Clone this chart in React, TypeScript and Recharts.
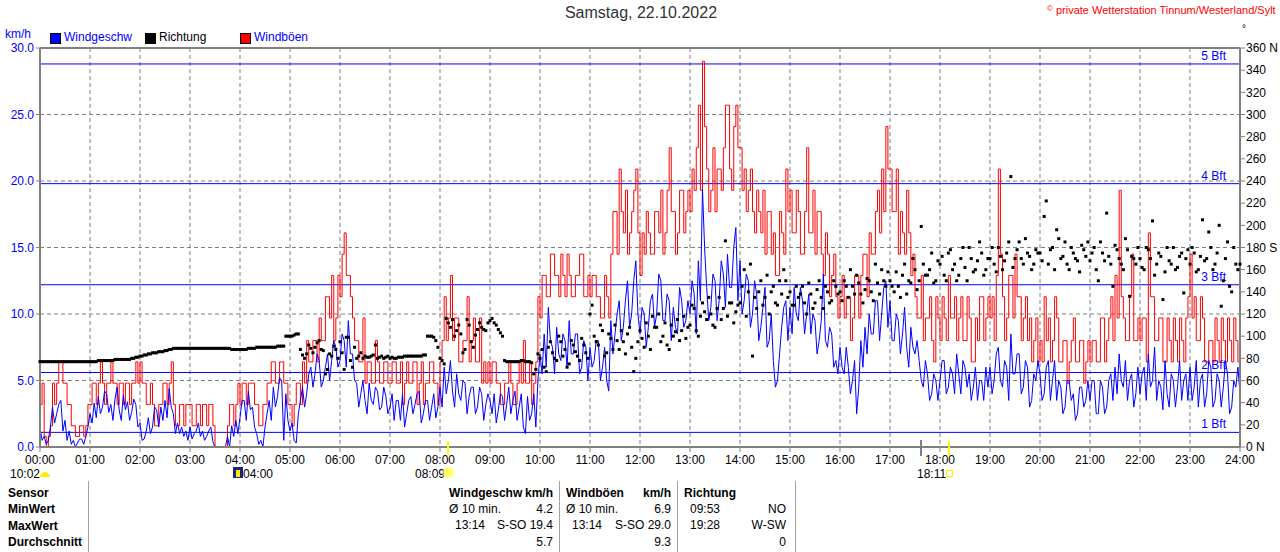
import React from "react";
import {
  ComposedChart,
  Line,
  Scatter,
  XAxis,
  YAxis,
  CartesianGrid,
  ReferenceLine,
} from "recharts";

// readings every 5 minutes, 00:00 .. 24:00 (km/h)
const windSpeed: number[] = [
  1.5, 0.8, 0.5, 3.0, 2.5, 3.5, 2.0, 1.2, 0.5, 0.3, 0.6, 0.8,
  2.5, 3.3, 3.8, 3.0, 4.0, 3.2, 3.6, 2.8, 3.9, 3.4, 2.6, 3.2,
  1.8, 0.6, 2.2, 1.5, 2.8, 3.0, 3.5, 4.4, 2.5, 1.8, 1.5, 1.2,
  1.5, 1.0, 1.8, 1.2, 0.8, 1.5, 0, 0, 0, 0.8, 1.6, 2.0,
  2.2, 3.5, 4.2, 3.0, 1.0, 0.5, 1.5, 3.5, 4.5, 3.8, 5.0, 4.0,
  1.2, 0.5, 2.5, 4.5, 4.0, 6.0, 5.5, 6.5, 5.0, 7.0, 6.5, 7.5,
  6.5, 8.0, 9.5, 7.0, 4.8, 4.0, 3.5, 4.8, 3.2, 4.2, 3.0, 3.8,
  3.0, 2.0, 3.5, 4.0, 2.5, 3.8, 3.2, 4.2, 2.5, 3.5, 3.0, 2.2,
  4.5, 6.0, 5.0, 4.2, 5.5, 3.5, 4.8, 3.8, 4.5, 3.0, 4.0, 3.2,
  3.5, 4.0, 2.8, 3.8, 3.2, 2.5, 4.2, 3.0, 1.5, 3.8, 2.5, 1.5,
  7.0, 8.5, 10.5, 7.5, 9.0, 6.5, 8.0, 9.5, 7.0, 8.5, 6.0, 7.5,
  7.5, 6.5, 8.0, 6.0, 5.0, 9.5, 8.5, 11.0, 9.0, 12.5, 10.0, 14.0,
  8.5, 10.0, 9.0, 11.5, 10.0, 12.5, 9.5, 11.0, 10.5, 8.5, 11.0, 9.5,
  10.0, 11.5, 14.0, 19.4, 12.0, 10.5, 12.5, 11.0, 13.0, 14.5, 12.0, 16.5,
  14.0, 11.0, 12.5, 10.0, 11.5, 9.0, 12.0, 8.0, 6.5, 5.0, 9.0, 11.0,
  10.5, 12.0, 9.5, 11.0, 10.0, 8.5, 9.5, 8.0, 13.0, 7.5, 8.5, 6.5,
  7.5, 5.5, 6.0, 5.0, 2.5, 8.0, 9.0, 10.0, 8.5, 11.0, 10.0, 12.5,
  11.0, 8.0, 9.5, 8.5, 7.5, 9.0, 7.0, 6.5, 4.5, 5.5, 4.0, 5.0,
  5.0, 6.5, 4.5, 5.5, 7.0, 4.0, 6.0, 5.5, 4.5, 3.5, 5.0, 6.0,
  6.0, 5.0, 7.5, 4.5, 6.0, 8.5, 5.5, 7.0, 4.5, 6.0, 3.5, 5.0,
  5.5, 4.0, 6.5, 5.0, 3.5, 4.5, 3.0, 5.0, 4.0, 2.5, 4.5, 3.5,
  3.5, 5.0, 2.5, 4.5, 3.0, 5.5, 6.0, 7.0, 4.5, 3.5, 5.5, 4.0,
  4.0, 6.0, 7.0, 5.0, 3.5, 4.5, 6.5, 3.0, 5.0, 4.5, 3.5, 5.5,
  6.0, 4.5, 3.0, 5.5, 4.0, 6.0, 3.5, 5.0, 4.5, 5.5, 3.0, 4.5,
  4.0,
];

// in-between readings, 2.5 minutes after each of the above
const windSpeedMid: number[] = [
  0.5, 0.2, 1.5, 1.8, 3.2, 1.2, 0.5, 0.2, 0, 0.6, 0.2, 1.5,
  1.8, 2.2, 2.5, 4.2, 2.6, 2.0, 4.5, 2.0, 2.8, 2.0, 3.6, 1.5,
  0.5, 1.2, 1.0, 3.0, 1.5, 2.0, 2.2, 3.0, 1.0, 1.0, 0.8, 0.5,
  0.6, 1.2, 0.8, 0.5, 1.2, 0.4, 0, 0, 0, 0, 0.8, 1.0,
  3.5, 2.0, 2.8, 1.5, 0.2, 0, 2.5, 2.0, 3.0, 5.2, 0.5, 2.0,
  1.8, 0.3, 3.5, 3.0, 5.5, 4.5, 7.0, 4.5, 6.0, 5.0, 8.0, 6.0,
  8.5, 6.0, 7.0, 5.0, 3.0, 5.0, 2.5, 3.5, 4.5, 2.8, 4.5, 2.5,
  4.0, 3.5, 2.0, 1.5, 3.5, 2.5, 4.0, 1.8, 3.5, 2.0, 4.0, 3.0,
  3.0, 4.0, 6.5, 3.0, 4.0, 5.0, 2.5, 4.5, 2.5, 4.5, 2.0, 4.0,
  2.5, 1.8, 4.0, 2.0, 4.5, 3.5, 2.0, 4.0, 1.0, 2.0, 4.0, 5.0,
  5.5, 6.0, 8.0, 5.5, 7.0, 8.5, 6.0, 7.0, 8.5, 5.5, 8.0, 5.0,
  6.0, 8.0, 5.0, 7.5, 4.2, 7.0, 10.0, 8.0, 11.0, 9.0, 12.5, 10.0,
  10.5, 7.5, 11.0, 9.0, 13.0, 9.5, 11.5, 8.0, 9.0, 12.0, 9.0, 11.0,
  12.5, 8.5, 11.0, 15.0, 9.5, 13.0, 9.5, 14.0, 10.5, 12.0, 15.0, 11.0,
  10.0, 13.0, 9.0, 12.5, 8.0, 10.5, 7.5, 10.0, 4.5, 7.0, 10.5, 8.0,
  8.5, 10.0, 12.0, 8.5, 11.5, 10.0, 7.0, 9.5, 8.0, 9.0, 6.0, 5.5,
  6.0, 7.5, 4.0, 6.5, 4.5, 6.0, 7.0, 8.5, 11.0, 8.0, 12.0, 9.0,
  8.0, 10.0, 7.0, 10.5, 6.0, 7.5, 8.0, 5.0, 6.5, 3.5, 5.5, 3.5,
  6.5, 4.0, 6.0, 4.0, 5.5, 6.5, 4.5, 3.5, 6.0, 5.0, 3.5, 4.5,
  4.0, 7.0, 5.0, 6.5, 3.5, 5.5, 7.0, 4.0, 6.5, 3.0, 5.5, 6.5,
  3.5, 6.0, 3.5, 6.5, 5.0, 2.5, 5.0, 3.5, 2.0, 4.5, 3.0, 5.0,
  5.0, 2.5, 5.0, 2.5, 5.0, 3.5, 4.0, 5.0, 6.5, 5.0, 3.0, 6.0,
  5.5, 3.5, 4.5, 7.5, 5.0, 2.8, 4.0, 5.5, 3.0, 6.5, 5.0, 3.5,
  3.5, 6.5, 5.0, 3.0, 6.5, 3.0, 5.5, 3.0, 6.5, 2.5, 5.0, 6.0,
];

const gusts: number[] = [
  3.2, 0.8, 0.8, 4.8, 4.8, 6.4, 4.8, 3.2, 1.6, 0.8, 1.6, 1.6,
  3.2, 4.8, 4.8, 4.8, 4.8, 6.4, 4.8, 4.8, 3.2, 4.8, 4.8, 6.4,
  6.4, 4.8, 3.2, 3.2, 1.6, 3.2, 4.8, 4.8, 3.2, 1.6, 3.2, 3.2,
  3.2, 1.6, 3.2, 3.2, 1.6, 3.2, 0, 0, 0, 1.6, 3.2, 3.2,
  3.2, 4.8, 4.8, 4.8, 3.2, 1.6, 3.2, 4.8, 6.4, 4.8, 6.4, 4.8,
  3.2, 3.2, 4.8, 6.4, 8.0, 6.4, 8.0, 9.7, 8.0, 11.3, 12.9, 9.7,
  11.3, 16.1, 12.9, 9.7, 8.0, 6.4, 4.8, 6.4, 4.8, 6.4, 4.8, 6.4,
  4.8, 6.4, 4.8, 3.2, 6.4, 4.8, 6.4, 4.8, 3.2, 4.8, 6.4, 4.8,
  6.4, 11.3, 9.7, 8.0, 9.7, 6.4, 8.0, 6.4, 9.7, 6.4, 4.8, 4.8,
  4.8, 6.4, 4.8, 3.2, 4.8, 4.8, 3.2, 6.4, 8.0, 4.8, 3.2, 6.4,
  9.7, 12.9, 11.3, 14.5, 12.9, 14.5, 11.3, 12.9, 11.3, 12.9, 14.5, 11.3,
  11.3, 12.9, 11.3, 9.7, 11.3, 14.5, 17.7, 20.9, 16.1, 14.5, 17.7, 20.9,
  12.9, 14.5, 16.1, 14.5, 17.7, 19.3, 16.1, 22.5, 17.7, 16.1, 19.3, 17.7,
  17.7, 19.3, 25.7, 29.0, 20.9, 19.3, 17.7, 20.9, 22.5, 25.7, 19.3, 25.7,
  22.5, 20.9, 19.3, 17.7, 19.3, 16.1, 14.5, 17.7, 16.1, 12.9, 16.1, 20.9,
  19.3, 16.1, 17.7, 14.5, 22.5, 16.1, 14.5, 17.7, 12.9, 14.5, 12.9, 11.3,
  11.3, 9.7, 11.3, 9.7, 12.9, 12.9, 14.5, 16.1, 14.5, 19.3, 20.9, 24.1,
  20.9, 17.7, 14.5, 16.1, 19.3, 12.9, 11.3, 9.7, 8.0, 9.7, 8.0, 11.3,
  8.0, 9.7, 12.9, 9.7, 8.0, 11.3, 8.0, 9.7, 6.4, 8.0, 11.3, 9.7,
  9.7, 8.0, 20.9, 11.3, 9.7, 12.9, 14.5, 11.3, 9.7, 8.0, 6.4, 9.7,
  8.0, 11.3, 9.7, 8.0, 9.7, 6.4, 8.0, 6.4, 9.7, 6.4, 8.0, 6.4,
  6.4, 8.0, 6.4, 9.7, 8.0, 11.3, 12.9, 19.3, 9.7, 8.0, 14.5, 8.0,
  8.0, 9.7, 16.1, 11.3, 8.0, 9.7, 6.4, 8.0, 9.7, 6.4, 8.0, 9.7,
  14.5, 11.3, 8.0, 9.7, 6.4, 8.0, 9.7, 6.4, 8.0, 9.7, 6.4, 8.0,
  6.4,
];

const gustsMid: number[] = [
  4.8, 0, 1.6, 3.2, 6.4, 4.8, 3.2, 1.6, 0.8, 1.6, 0.8, 3.2,
  4.8, 3.2, 6.4, 3.2, 4.8, 4.8, 3.2, 4.8, 4.8, 3.2, 4.8, 4.8,
  4.8, 3.2, 4.8, 1.6, 3.2, 4.8, 3.2, 6.4, 1.6, 3.2, 1.6, 3.2,
  1.6, 3.2, 1.6, 3.2, 3.2, 1.6, 0, 0, 0, 3.2, 1.6, 4.8,
  4.8, 3.2, 4.8, 3.2, 1.6, 3.2, 4.8, 6.4, 4.8, 6.4, 4.8, 3.2,
  1.6, 4.8, 3.2, 4.8, 6.4, 8.0, 6.4, 8.0, 11.3, 9.7, 8.0, 12.9,
  14.5, 12.9, 11.3, 8.0, 6.4, 9.7, 6.4, 4.8, 8.0, 4.8, 6.4, 4.8,
  6.4, 4.8, 6.4, 4.8, 4.8, 6.4, 3.2, 6.4, 4.8, 6.4, 4.8, 3.2,
  8.0, 8.0, 12.9, 9.7, 6.4, 8.0, 11.3, 8.0, 6.4, 9.7, 6.4, 6.4,
  6.4, 4.8, 3.2, 4.8, 6.4, 3.2, 4.8, 4.8, 4.8, 6.4, 4.8, 11.3,
  12.9, 11.3, 14.5, 12.9, 11.3, 12.9, 14.5, 11.3, 12.9, 14.5, 11.3, 12.9,
  12.9, 11.3, 9.7, 12.9, 9.7, 17.7, 14.5, 17.7, 19.3, 16.1, 19.3, 16.1,
  16.1, 17.7, 14.5, 17.7, 16.1, 14.5, 19.3, 17.7, 14.5, 19.3, 16.1, 19.3,
  20.9, 22.5, 19.3, 24.1, 17.7, 22.5, 20.9, 19.3, 25.7, 20.9, 24.1, 22.5,
  19.3, 17.7, 20.9, 16.1, 17.7, 19.3, 17.7, 14.5, 12.9, 17.7, 14.5, 17.7,
  16.1, 19.3, 14.5, 17.7, 16.1, 19.3, 17.7, 14.5, 16.1, 11.3, 14.5, 9.7,
  12.9, 11.3, 8.0, 12.9, 9.7, 14.5, 11.3, 14.5, 17.7, 16.1, 17.7, 20.9,
  17.7, 20.9, 17.7, 14.5, 16.1, 14.5, 9.7, 12.9, 9.7, 11.3, 6.4, 9.7,
  11.3, 8.0, 9.7, 11.3, 9.7, 8.0, 11.3, 6.4, 9.7, 11.3, 8.0, 11.3,
  11.3, 12.9, 14.5, 8.0, 12.9, 9.7, 11.3, 8.0, 11.3, 9.7, 8.0, 6.4,
  6.4, 8.0, 6.4, 11.3, 6.4, 8.0, 4.8, 8.0, 6.4, 8.0, 4.8, 8.0,
  8.0, 6.4, 9.7, 6.4, 9.7, 8.0, 9.7, 11.3, 8.0, 11.3, 8.0, 9.7,
  9.7, 6.4, 11.3, 8.0, 9.7, 6.4, 9.7, 6.4, 8.0, 9.7, 6.4, 11.3,
  9.7, 8.0, 11.3, 6.4, 8.0, 6.4, 8.0, 9.7, 6.4, 8.0, 9.7, 6.4,
];

// wind direction in degrees
const direction: number[] = [
  77, 77, 77, 77, 77, 77, 77, 77, 77, 77, 77, 77,
  77, 77, 78, 78, 78, 78, 79, 79, 79, 79, 80, 81,
  82, 83, 84, 85, 85, 86, 87, 88, 89, 89, 89, 89,
  89, 89, 89, 89, 89, 89, 89, 89, 89, 89, 88, 88,
  88, 88, 89, 89, 90, 90, 90, 90, 90, 91, 91, 100,
  100, 101, 102, 83, 84, 89, 90, 96, 87, 70, 82, 88,
  95, 70, 99, 72, 80, 85, 82, 81, 83, 80, 82, 81,
  80, 80, 81, 81, 82, 82, 82, 82, 83, 100, 100, 96,
  80, 75, 112, 115, 105, 102, 88, 110, 90, 106, 108, 105,
  114, 112, 106, 100, 77, 77, 77, 77, 78, 77, 76, 70,
  80, 72, 90, 85, 78, 95, 88, 75, 92, 82, 98, 85,
  120, 100, 92, 105, 85, 98, 110, 88, 95, 102, 90, 80,
  105, 90, 100, 118, 108, 95, 112, 88, 100, 115, 105, 98,
  110, 125, 100, 130, 115, 120, 108, 135, 125, 118, 130, 122,
  130, 160, 140, 82, 125, 150, 135, 120, 145, 128, 138, 150,
  140, 128, 135, 145, 120, 138, 130, 150, 125, 140, 132, 145,
  140, 150, 135, 145, 155, 138, 142, 150, 132, 148, 160, 145,
  150, 140, 145, 155, 138, 148, 160, 150, 165, 155, 175, 150,
  165, 155, 175, 160, 150, 170, 162, 180, 158, 168, 175, 160,
  170, 165, 180, 160, 175, 244, 170, 185, 165, 175, 160, 178,
  175, 208, 165, 180, 196, 170, 185, 160, 175, 168, 182, 172,
  168, 180, 150, 175, 211, 165, 182, 170, 160, 178, 172, 165,
  170, 160, 178, 204, 165, 172, 158, 168, 180, 162, 175, 170,
  165, 175, 160, 205, 170, 180, 165, 200, 150, 185, 140, 165,
  165,
];

const directionMid: number[] = [
  77, 77, 77, 77, 77, 77, 77, 77, 77, 77, 77, 77,
  77, 77, 78, 78, 78, 78, 79, 79, 79, 79, 80, 81,
  82, 83, 84, 85, 86, 86, 87, 88, 89, 89, 89, 89,
  89, 89, 89, 89, 89, 89, 89, 89, 89, 89, 88, 88,
  88, 88, 89, 89, 90, 90, 90, 90, 90, 91, 91, 100,
  100, 102, 88, 80, 92, 85, 94, 88, 66, 84, 91, 80,
  85, 99, 78, 90, 82, 80, 81, 82, 92, 81, 80, 82,
  81, 80, 81, 82, 82, 82, 82, 82, 83, 100, 99, 90,
  78, 116, 108, 100, 110, 85, 115, 95, 101, 112, 106, 112,
  116, 110, 103, 78, 77, 77, 77, 78, 77, 77, 66, 84,
  88, 68, 95, 80, 100, 82, 72, 96, 86, 78, 92, 80,
  128, 95, 110, 82, 102, 88, 96, 105, 84, 108, 68, 95,
  98, 112, 88, 108, 120, 100, 92, 110, 104, 96, 118, 108,
  128, 105, 118, 122, 135, 110, 125, 115, 186, 130, 112, 128,
  145, 118, 165, 135, 140, 128, 155, 140, 130, 150, 160, 135,
  128, 145, 138, 130, 148, 125, 142, 135, 145, 130, 150, 138,
  132, 145, 160, 138, 148, 130, 152, 140, 165, 138, 150, 158,
  145, 158, 135, 165, 150, 170, 142, 199, 155, 160, 148, 168,
  172, 150, 178, 165, 155, 180, 150, 170, 160, 185, 155, 170,
  180, 158, 172, 168, 185, 162, 178, 170, 188, 172, 165, 175,
  168, 222, 178, 160, 188, 172, 165, 180, 170, 158, 178, 185,
  175, 160, 185, 168, 172, 145, 178, 165, 188, 136, 170, 180,
  162, 180, 170, 155, 175, 133, 180, 165, 160, 172, 139, 178,
  180, 158, 172, 168, 194, 160, 175, 127, 170, 145, 180, 160,
];

const hourTicks = Array.from({ length: 25 }, (_, h) => h * 60);
const kmhTicks = [0, 5, 10, 15, 20, 25, 30];
const dirTicks = Array.from({ length: 19 }, (_, i) => i * 20);
const beaufort = [
  { v: 1.1, label: "1 Bft" },
  { v: 5.6, label: "2 Bft" },
  { v: 12.2, label: "3 Bft" },
  { v: 19.8, label: "4 Bft" },
  { v: 28.8, label: "5 Bft" },
];

const data: { t: number; wind: number; gust: number; dir: number }[] = [];
windSpeed.forEach((w, i) => {
  data.push({ t: i * 5, wind: w, gust: gusts[i], dir: direction[i] });
  if (i < windSpeedMid.length) {
    data.push({
      t: i * 5 + 2.5,
      wind: windSpeedMid[i],
      gust: gustsMid[i],
      dir: directionMid[i],
    });
  }
});

const GRAY = "#808080";
const BLUE = "#0000ff";
const FONT = "'Liberation Sans', Arial, sans-serif";

const hh = (m: number) => String(Math.round(m / 60)).padStart(2, "0") + ":00";
const dirLabel = (v: number) =>
  v === 0 || v === 360 ? `${v}  N` : v === 180 ? `${v}  S` : `${v}`;

const BftLabel = (props: any) => {
  const vb = props.viewBox;
  if (!vb) return null;
  return (
    <text
      x={vb.x + vb.width - 14}
      y={vb.y - 4}
      textAnchor="end"
      fill={BLUE}
      fontSize={12}
      fontFamily={FONT}
    >
      {props.text}
    </text>
  );
};

const Square = (props: any) => (
  <rect x={props.cx - 1.5} y={props.cy - 1.5} width={3} height={3} fill="#000" />
);

const abs = (left: number, top: number, extra: React.CSSProperties = {}): React.CSSProperties => ({
  position: "absolute",
  left,
  top,
  whiteSpace: "nowrap",
  ...extra,
});

const legendBox = (color: string): React.CSSProperties => ({
  width: 9,
  height: 9,
  background: color,
  border: "1px solid #000",
});

const App: React.FC = () => {
  return (
    <div
      style={{
        position: "absolute",
        left: 0,
        top: 0,
        width: 1280,
        height: 552,
        background: "#fff",
        fontFamily: FONT,
        fontSize: 12,
        overflow: "hidden",
      }}
    >
      <ComposedChart
        width={1280}
        height={470}
        data={data}
        margin={{ top: 48, right: 0, bottom: 0, left: 0 }}
        style={{ position: "absolute", left: 0, top: 0 }}
      >
        <CartesianGrid
          yAxisId="kmh"
          stroke={GRAY}
          strokeDasharray="4 3"
          horizontalValues={kmhTicks}
          verticalValues={hourTicks}
        />
        <XAxis
          dataKey="t"
          type="number"
          domain={[0, 1440]}
          ticks={hourTicks}
          tickFormatter={hh}
          height={23}
          tickSize={5}
          tickMargin={3}
          axisLine={{ stroke: GRAY, strokeWidth: 2 }}
          tickLine={{ stroke: GRAY }}
          tick={{ fill: "#000", fontSize: 12, fontFamily: FONT }}
          interval={0}
        />
        <YAxis
          yAxisId="kmh"
          domain={[0, 30]}
          ticks={kmhTicks}
          width={40}
          tickFormatter={(v: number) => v.toFixed(1)}
          tickSize={4}
          tickMargin={2}
          axisLine={{ stroke: GRAY, strokeWidth: 2 }}
          tickLine={{ stroke: GRAY }}
          tick={{ fill: BLUE, fontSize: 12, fontFamily: FONT }}
          interval={0}
        />
        <YAxis
          yAxisId="dir"
          orientation="right"
          domain={[0, 360]}
          ticks={dirTicks}
          width={40}
          tickFormatter={dirLabel}
          tickSize={5}
          tickMargin={1}
          axisLine={{ stroke: GRAY, strokeWidth: 2 }}
          tickLine={{ stroke: GRAY }}
          tick={{ fill: "#000", fontSize: 12, fontFamily: FONT }}
          interval={0}
        />
        <ReferenceLine yAxisId="kmh" y={30} stroke={GRAY} strokeWidth={2} />
        {beaufort.map((b) => (
          <ReferenceLine
            key={b.label}
            yAxisId="kmh"
            y={b.v}
            stroke={BLUE}
            strokeWidth={1}
            label={(p: any) => <BftLabel {...p} text={b.label} />}
          />
        ))}
        <Line
          yAxisId="kmh"
          dataKey="gust"
          type="stepAfter"
          stroke="#ff0000"
          strokeWidth={1}
          dot={false}
          isAnimationActive={false}
        />
        <Line
          yAxisId="kmh"
          dataKey="wind"
          type="linear"
          stroke={BLUE}
          strokeWidth={1}
          dot={false}
          isAnimationActive={false}
        />
        <Scatter
          yAxisId="dir"
          dataKey="dir"
          fill="#000"
          shape={Square}
          isAnimationActive={false}
        />
      </ComposedChart>

      {/* header */}
      <div style={abs(0, 4, { width: 1282, textAlign: "center", fontSize: 16, color: "#333" })}>
        Samstag, 22.10.2022
      </div>
      <div style={abs(1047, 4, { color: "#ff0000", fontSize: 11 })}>
        <span style={{ fontSize: 8, verticalAlign: "top" }}>©</span> private Wetterstation Tinnum/Westerland/Sylt
      </div>
      <div style={abs(1242, 23, { fontSize: 10 })}>°</div>
      <div style={abs(5, 27, { color: BLUE })}>km/h</div>

      {/* legend */}
      <div style={abs(50, 33, legendBox(BLUE))} />
      <div style={abs(64, 30, { color: BLUE })}>Windgeschw</div>
      <div style={abs(145, 33, legendBox("#000"))} />
      <div style={abs(159, 30, { color: "#000" })}>Richtung</div>
      <div style={abs(240, 33, legendBox("#ff0000"))} />
      <div style={abs(254, 30, { color: BLUE })}>Windböen</div>

      {/* sun / moon markers */}
      <div style={abs(447, 441, { width: 2, height: 14, background: "#ffff00" })} />
      <div style={abs(920, 440, { width: 2, height: 16, background: GRAY })} />
      <div style={abs(948, 441, { width: 2, height: 14, background: "#ffff00" })} />
      <div style={abs(10, 467)}>10:02</div>
      <div style={abs(40, 472, { width: 10, height: 5, background: "#ffee00", borderRadius: "5px 5px 0 0" })} />
      <div style={abs(233, 467, { width: 10, height: 11, background: "#1a237e" })} />
      <div style={abs(236, 470, { width: 4, height: 7, background: "#ffee00" })} />
      <div style={abs(243, 467)}>04:00</div>
      <div style={abs(415, 467)}>08:09</div>
      <div style={abs(444, 468, { width: 9, height: 9, borderRadius: 5, background: "#ffff66", boxShadow: "0 0 2px 1px #ffff99" })} />
      <div style={abs(917, 467)}>18:11</div>
      <div style={abs(946, 470, { width: 5, height: 5, border: "1px solid #ffee00" })} />

      {/* summary table */}
      {[88, 559, 677, 795].map((x) => (
        <div key={x} style={abs(x, 481, { width: 1, height: 71, background: "#a0a0a0" })} />
      ))}
      {["Sensor", "MinWert", "MaxWert", "Durchschnitt"].map((s, i) => (
        <div key={s} style={abs(8, 486 + i * 16.3, { fontWeight: "bold" })}>
          {s}
        </div>
      ))}
      <div style={abs(449, 486, { fontWeight: "bold", width: 104 })}>
        Windgeschw<span style={{ float: "right" }}>km/h</span>
      </div>
      <div style={abs(449, 502, { width: 104 })}>
        Ø 10 min.<span style={{ float: "right" }}>4.2</span>
      </div>
      <div style={abs(455, 518, { width: 98 })}>
        13:14<span style={{ float: "right" }}>S-SO 19.4</span>
      </div>
      <div style={abs(449, 535, { width: 104, textAlign: "right" })}>5.7</div>

      <div style={abs(566, 486, { fontWeight: "bold", width: 105 })}>
        Windböen<span style={{ float: "right" }}>km/h</span>
      </div>
      <div style={abs(566, 502, { width: 105 })}>
        Ø 10 min.<span style={{ float: "right" }}>6.9</span>
      </div>
      <div style={abs(572, 518, { width: 99 })}>
        13:14<span style={{ float: "right" }}>S-SO 29.0</span>
      </div>
      <div style={abs(566, 535, { width: 105, textAlign: "right" })}>9.3</div>

      <div style={abs(684, 486, { fontWeight: "bold" })}>Richtung</div>
      <div style={abs(690, 502, { width: 96 })}>
        09:53<span style={{ float: "right" }}>NO</span>
      </div>
      <div style={abs(690, 518, { width: 96 })}>
        19:28<span style={{ float: "right" }}>W-SW</span>
      </div>
      <div style={abs(690, 535, { width: 96, textAlign: "right" })}>0</div>
    </div>
  );
};

export default App;
